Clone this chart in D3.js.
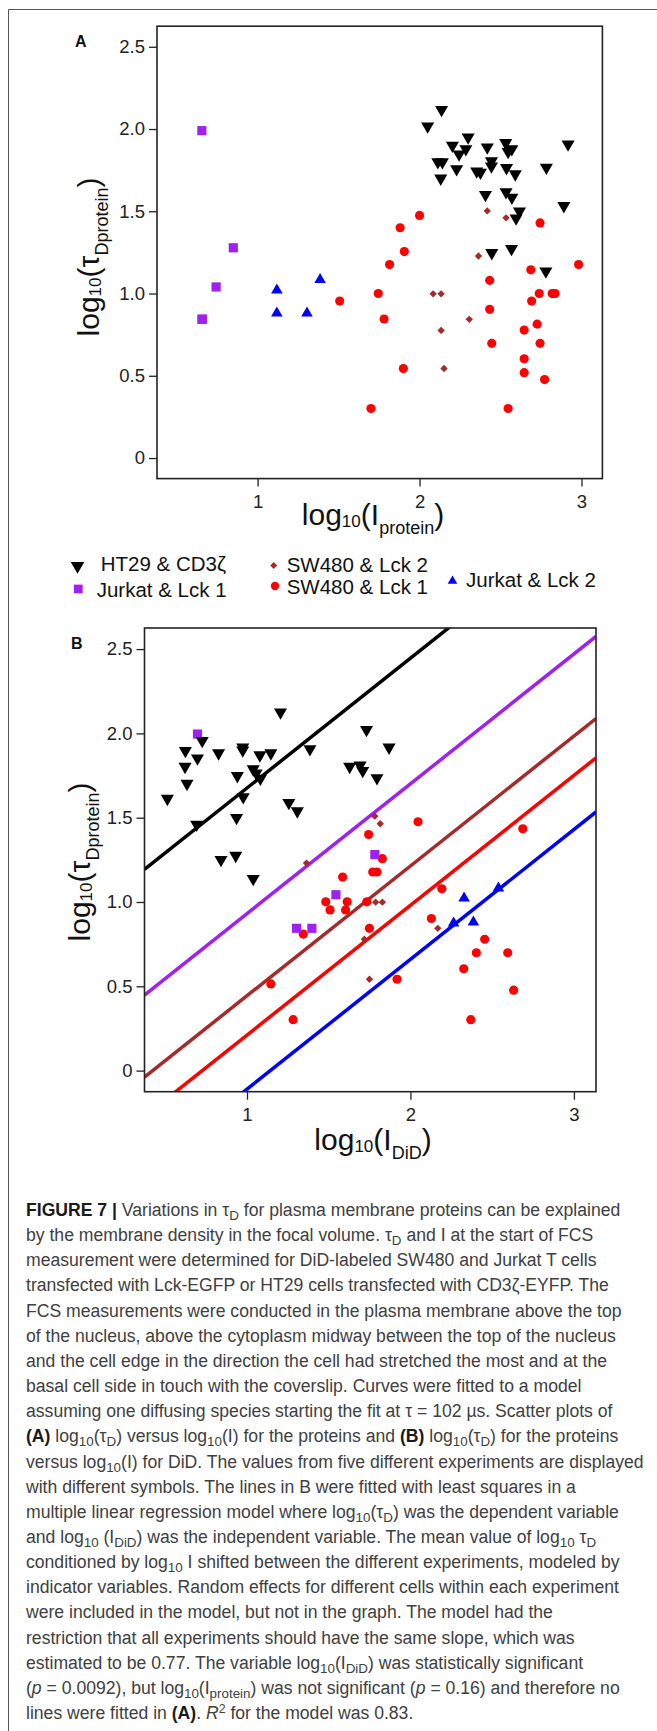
<!DOCTYPE html>
<html>
<head>
<meta charset="utf-8">
<script src="https://cdn.jsdelivr.net/npm/d3@7"></script>
<style>
  body { margin: 0; background: #fff; }
  svg text { font-family: "Liberation Sans", Arial, sans-serif; white-space: pre; }
</style>
</head>
<body>
<svg id="fig" width="657" height="1731"></svg>
<script>
// ---- panel A : log10(tauD) vs log10(I protein) ----
var ht29A = [[2.136,2.117],[2.05,2.017],[2.30,1.95],[2.203,1.90],[2.244,1.847],[2.286,1.879],[2.418,1.889],
  [2.532,1.916],[2.547,1.862],[2.57,1.879],[2.917,1.908],[2.113,1.80],[2.141,1.80],[2.131,1.70],[2.229,1.757],
  [2.353,1.743],[2.376,1.736],[2.444,1.805],[2.444,1.774],[2.537,1.764],[2.591,1.726],[2.783,1.766],[2.407,1.60],
  [2.534,1.617],[2.57,1.584],[2.617,1.50],[2.596,1.458],[2.891,1.533],[2.446,1.247],[2.568,1.272],[2.78,1.136]];
var jurkat1A = [[0.656,1.99],[0.85,1.278],[0.744,1.04],[0.656,0.843],[0.66,0.845]];
var jurkat2A = [[1.119,1.02],[1.386,1.084],[1.119,0.881],[1.305,0.881]];
var sw2A = [[2.418,1.502],[2.534,1.46],[2.364,1.228],[2.084,0.998],[2.133,0.998],[2.307,0.843],[2.133,0.776],[2.151,0.544]];
var sw1A = [[1.507,0.954],[1.745,1.0],[1.781,0.845],[1.815,1.176],[1.88,1.40],[1.906,1.255],[2.0,1.475],[1.90,0.544],
  [1.70,0.301],[2.433,1.08],[2.433,0.904],[2.446,0.697],[2.547,0.301],[2.646,0.778],[2.646,0.603],[2.646,0.519],
  [2.687,1.144],[2.692,0.954],[2.739,1.0],[2.726,0.814],[2.744,0.697],[2.744,1.429],[2.772,0.477],[2.819,1.0],
  [2.837,1.0],[2.982,1.176]];

// ---- panel B : log10(tauD) vs log10(I DiD) ----
var ht29B = [[1.205,2.125],[1.731,2.022],[0.726,1.956],[0.623,1.897],[0.697,1.853],[0.621,1.803],[0.633,1.702],
  [0.513,1.613],[0.826,1.883],[0.974,1.917],[0.974,1.90],[1.079,1.871],[1.146,1.883],[1.385,1.907],[1.869,1.917],
  [1.038,1.788],[1.056,1.764],[1.082,1.732],[0.941,1.748],[0.977,1.623],[0.936,1.50],[0.692,1.46],[1.628,1.803],
  [1.692,1.811],[1.708,1.778],[1.795,1.736],[1.256,1.589],[1.308,1.539],[0.841,1.251],[0.931,1.275],[1.038,1.138]];
var jurkat1B = [[0.697,1.996],[1.782,1.281],[1.544,1.043],[1.303,0.844],[1.397,0.844]];
var jurkat2B = [[2.328,1.023],[2.538,1.082],[2.264,0.874],[2.385,0.88]];
var sw2B = [[1.782,1.509],[1.815,1.464],[1.364,1.231],[1.738,0.999],[1.787,0.999],[1.828,0.999],[2.167,0.844],
  [1.718,0.779],[1.749,0.542]];
var sw1B = [[2.046,1.476],[2.687,1.434],[1.744,1.40],[1.828,1.257],[1.769,1.178],[1.795,1.178],[1.585,1.148],
  [2.192,1.078],[1.482,1.001],[1.613,1.001],[1.733,1.001],[1.508,0.953],[1.603,0.953],[2.128,0.902],[1.749,0.844],
  [1.344,0.81],[2.454,0.779],[2.403,0.699],[2.595,0.699],[2.326,0.604],[1.146,0.514],[1.918,0.542],[2.631,0.477],
  [1.282,0.302],[2.369,0.302]];

// fitted lines in B: common slope, one intercept per experiment
var slope = 0.77;
var intercepts = [0.906, 0.161, -0.326, -0.559, -0.88];

var yTicks = [0, 0.5, 1, 1.5, 2, 2.5];
var xTicks = [1, 2, 3];

var groupNames = ["HT29 & CD3ζ", "Jurkat & Lck 1", "SW480 & Lck 2", "SW480 & Lck 1", "Jurkat & Lck 2"];

var captionLines = [
  "**FIGURE 7 |** Variations in τ_{D} for plasma membrane proteins can be explained",
  "by the membrane density in the focal volume. τ_{D} and I at the start of FCS",
  "measurement were determined for DiD-labeled SW480 and Jurkat T cells",
  "transfected with Lck-EGFP or HT29 cells transfected with CD3ζ-EYFP. The",
  "FCS measurements were conducted in the plasma membrane above the top",
  "of the nucleus, above the cytoplasm midway between the top of the nucleus",
  "and the cell edge in the direction the cell had stretched the most and at the",
  "basal cell side in touch with the coverslip. Curves were fitted to a model",
  "assuming one diffusing species starting the fit at τ = 102 µs. Scatter plots of",
  "**(A)** log_{10}(τ_{D}) versus log_{10}(I) for the proteins and **(B)** log_{10}(τ_{D}) for the proteins",
  "versus log_{10}(I) for DiD. The values from five different experiments are displayed",
  "with different symbols. The lines in B were fitted with least squares in a",
  "multiple linear regression model where log_{10}(τ_{D}) was the dependent variable",
  "and log_{10} (I_{DiD}) was the independent variable. The mean value of log_{10} τ_{D}",
  "conditioned by log_{10} I shifted between the different experiments, modeled by",
  "indicator variables. Random effects for different cells within each experiment",
  "were included in the model, but not in the graph. The model had the",
  "restriction that all experiments should have the same slope, which was",
  "estimated to be 0.77. The variable log_{10}(I_{DiD}) was statistically significant",
  "(~p~ = 0.0092), but log_{10}(I_{protein}) was not significant (~p~ = 0.16) and therefore no",
  "lines were fitted in **(A)**. ~R~^{2} for the model was 0.83."
];

// marker styles for each group
var styles = {
  ht29:    { color: "#000000", type: d3.symbolTriangle, size: 74, rot: 180 },
  jurkat1: { color: "#A020F0", type: d3.symbolSquare,   size: 84, rot: 0 },
  sw2:     { color: "#A52A2A", type: d3.symbolSquare,   size: 27, rot: 45 },
  sw1:     { color: "#FF0000", type: d3.symbolCircle,   size: 66, rot: 0 },
  jurkat2: { color: "#0000FF", type: d3.symbolTriangle, size: 58, rot: 0 }
};
var lineColors = ["#000000", "#A020F0", "#A52A2A", "#FF0000", "#0000FF"];

var svg = d3.select("#fig");

// outer frame of the figure
svg.append("path").attr("d", "M8.5,1731V9.5H657")
  .attr("fill", "none").attr("stroke", "#555").attr("stroke-width", 1);

function richText(sel, parts) {
  // parts: [text, fontSize, baselineOffset, weight, style]
  var cur = 0;
  parts.forEach(function(p) {
    var ts = sel.append("tspan").attr("font-size", p[1]);
    var off = p[2] || 0;
    if (off !== cur) { ts.attr("dy", off - cur); cur = off; }
    if (p[3]) ts.attr("font-weight", p[3]);
    if (p[4]) ts.attr("font-style", p[4]);
    ts.text(p[0]);
  });
}

function drawPoints(g, x, y, data, st) {
  g.append("g").selectAll("path").data(data).enter().append("path")
    .attr("d", d3.symbol().type(st.type).size(st.size))
    .attr("transform", function(d) { return "translate(" + x(d[0]) + "," + y(d[1]) + ") rotate(" + st.rot + ")"; })
    .attr("fill", st.color);
}

function panel(opt) {
  var x = d3.scaleLinear().domain(opt.xdom).range([opt.left, opt.right]);
  var y = d3.scaleLinear().domain([-0.125, 2.625]).range([opt.bottom, opt.top]);
  var g = svg.append("g");

  var fmt = function(d) { return d === 0 ? "0" : d3.format(".1f")(d); };
  var ax = g.append("g").attr("transform", "translate(" + opt.left + ",0)")
    .call(d3.axisLeft(y).tickValues(yTicks).tickFormat(fmt).tickSize(8).tickPadding(4));
  var bx = g.append("g").attr("transform", "translate(0," + opt.bottom + ")")
    .call(d3.axisBottom(x).tickValues(xTicks).tickFormat(d3.format("d")).tickSize(8).tickPadding(8));
  [ax, bx].forEach(function(a) {
    a.select(".domain").remove();
    a.selectAll("line").attr("stroke", "#222").attr("stroke-width", 1.3);
    a.selectAll("text").attr("font-size", 18.5).attr("fill", "#222")
      .style("font-family", "'Liberation Sans', Arial, sans-serif");
  });

  if (opt.lines) {
    var clipId = "clip" + opt.label;
    svg.append("clipPath").attr("id", clipId).append("rect")
      .attr("x", opt.left).attr("y", opt.top)
      .attr("width", opt.right - opt.left).attr("height", opt.bottom - opt.top);
    g.append("g").attr("clip-path", "url(#" + clipId + ")")
      .selectAll("line").data(intercepts).enter().append("line")
      .attr("x1", x(opt.xdom[0])).attr("x2", x(opt.xdom[1]))
      .attr("y1", function(b) { return y(b + slope * opt.xdom[0]); })
      .attr("y2", function(b) { return y(b + slope * opt.xdom[1]); })
      .attr("stroke", function(b, i) { return lineColors[i]; })
      .attr("stroke-width", 3.5);
  }

  drawPoints(g, x, y, opt.data.sw2, styles.sw2);
  drawPoints(g, x, y, opt.data.sw1, styles.sw1);
  drawPoints(g, x, y, opt.data.jurkat1, styles.jurkat1);
  drawPoints(g, x, y, opt.data.jurkat2, styles.jurkat2);
  drawPoints(g, x, y, opt.data.ht29, styles.ht29);

  g.append("rect").attr("x", opt.left).attr("y", opt.top)
    .attr("width", opt.right - opt.left).attr("height", opt.bottom - opt.top)
    .attr("fill", "none").attr("stroke", "#222").attr("stroke-width", 1.6);

  g.append("text").attr("x", opt.labelX).attr("y", opt.labelY)
    .attr("font-size", 16).attr("font-weight", "bold").attr("fill", "#111").text(opt.label);

  var xl = g.append("text").attr("x", 373).attr("y", opt.xLabelY)
    .attr("text-anchor", "middle").attr("fill", "#111");
  richText(xl, [["log", 30], ["10", 17, 2], ["(", 30, 0], ["I", 30, 0], [opt.xSub, 18, 9], [")", 30, 0]]);

  var yl = g.append("text")
    .attr("transform", "translate(" + opt.yLabelX + "," + opt.yLabelY + ") rotate(-90)")
    .attr("text-anchor", "middle").attr("fill", "#111");
  richText(yl, [["log", 30], ["10", 17, 2], ["(", 30, 0], ["τ", 30, 0], ["Dprotein", 18, 9], [")", 30, 0]]);
}

panel({
  label: "A", labelX: 75, labelY: 47,
  left: 157, right: 602.4, top: 26.2, bottom: 478.6, xdom: [0.379, 3.129],
  xLabelY: 525, xSub: "protein", yLabelX: 99, yLabelY: 257,
  data: { ht29: ht29A, jurkat1: jurkat1A, jurkat2: jurkat2A, sw2: sw2A, sw1: sw1A }
});
panel({
  label: "B", labelX: 71, labelY: 649,
  left: 144.5, right: 596, top: 628, bottom: 1091.7, xdom: [0.373, 3.135], lines: true,
  xLabelY: 1150, xSub: "DiD", yLabelX: 90, yLabelY: 862,
  data: { ht29: ht29B, jurkat1: jurkat1B, jurkat2: jurkat2B, sw2: sw2B, sw1: sw1B }
});

// legend between the panels
var legendItems = [
  { key: "ht29",    mx: 77.5,  my: 566,   tx: 100.7, ty: 570.7, sz: 80 },
  { key: "jurkat1", mx: 78.3,  my: 589,   tx: 96.7,  ty: 597.3, sz: 76 },
  { key: "sw2",     mx: 273.7, my: 565.5, tx: 286.7, ty: 572.3, sz: 24 },
  { key: "sw1",     mx: 275,   my: 586,   tx: 286.7, ty: 594.3, sz: 55 },
  { key: "jurkat2", mx: 452.5, my: 581,   tx: 466,   ty: 587,   sz: 40 }
];
var leg = svg.append("g");
legendItems.forEach(function(it, i) {
  var st = styles[it.key];
  leg.append("path").attr("d", d3.symbol().type(st.type).size(it.sz))
    .attr("transform", "translate(" + it.mx + "," + it.my + ") rotate(" + st.rot + ")")
    .attr("fill", st.color);
  leg.append("text").attr("x", it.tx).attr("y", it.ty).attr("font-size", 20.5)
    .attr("fill", "#111").text(groupNames[i]);
});

// caption
var cap = svg.append("g");
captionLines.forEach(function(line, i) {
  var t = cap.append("text").attr("x", 26).attr("y", 1216 + i * 25.15).attr("fill", "#404040");
  var parts = line.split(/(\*\*.+?\*\*|_\{.*?\}|\^\{.*?\}|~.+?~)/).filter(function(s) { return s.length; });
  var fs = 17.6;
  richText(t, parts.map(function(s) {
    if (s.indexOf("**") === 0) return [s.slice(2, -2), fs, 0, "bold"];
    if (s.indexOf("_{") === 0) return [s.slice(2, -1), fs * 0.76, 4];
    if (s.indexOf("^{") === 0) return [s.slice(2, -1), fs * 0.7, -6];
    if (s.charAt(0) === "~") return [s.slice(1, -1), fs, 0, null, "italic"];
    return [s, fs, 0];
  }));
  t.selectAll("tspan").filter(function() { return d3.select(this).attr("font-weight") === "bold"; })
    .attr("fill", "#1a1a1a");
});
</script>
</body>
</html>
